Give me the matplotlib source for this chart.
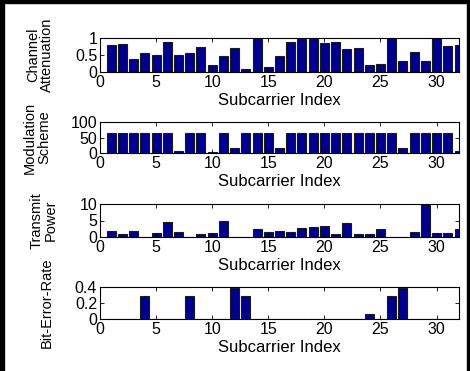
import numpy as np
import matplotlib
matplotlib.use("Agg")
import matplotlib.pyplot as plt
from matplotlib.patches import Rectangle

plt.rcParams['font.family'] = ['Liberation Sans', 'DejaVu Sans']

subcarrier = np.arange(1, 33)
attenuation = [0.78, 0.81, 0.39, 0.56, 0.49, 0.87, 0.49, 0.56, 0.75, 0.21,
               0.46, 0.72, 0.08, 0.96, 0.14, 0.46, 0.87, 0.96, 0.96, 0.84,
               0.87, 0.68, 0.72, 0.21, 0.24, 0.99, 0.32, 0.59, 0.32, 0.99,
               0.77, 0.80]
modulation = [64, 64, 64, 64, 64, 64, 8, 64, 64, 4,
              64, 16, 64, 64, 64, 16, 64, 64, 64, 64,
              64, 64, 64, 64, 64, 64, 16, 64, 64, 64,
              64, 8]
power = [1.7, 0.8, 1.7, 0.0, 1.2, 4.6, 1.5, 0.0, 0.8, 1.1,
         5.0, 0.0, 0.0, 2.4, 1.5, 1.7, 1.4, 2.7, 3.0, 3.4,
         0.8, 4.2, 0.8, 0.8, 2.4, 0.0, 0.0, 1.4, 10.0, 1.1,
         1.1, 2.4]
ber = [0.002, 0.002, 0.002, 0.29, 0.002, 0.002, 0.002, 0.29, 0.002, 0.002,
       0.002, 0.39, 0.29, 0.002, 0.002, 0.002, 0.002, 0.002, 0.002, 0.002,
       0.002, 0.002, 0.002, 0.06, 0.002, 0.29, 0.39, 0.002, 0.002, 0.002,
       0.002, 0.002]

panels = [
    (attenuation, 'Channel\nAttenuation', (0, 1), [0, 0.5, 1], ['0', '0.5', '1'], -0.128),
    (modulation, 'Modulation\nScheme', (0, 100), [0, 50, 100], ['0', '50', '100'], -0.136),
    (power, 'Transmit\nPower', (0, 10), [0, 5, 10], ['0', '5', '10'], -0.117),
    (ber, 'Bit-Error-Rate', (0, 0.4), [0, 0.2, 0.4], ['0', '0.2', '0.4'], -0.13),
]
# axes boxes in pixels (top, bottom) of a 470x371 figure
boxes = [(38, 72), (122, 153), (204, 237), (287, 319)]

W, H = 470, 371
fig = plt.figure(figsize=(W / 100, H / 100), dpi=100)

for (vals, ylab, ylim, yt, ytl, lx), (top, bot) in zip(panels, boxes):
    ax = fig.add_axes([100 / W, 1 - bot / H, 359 / W, (bot - top) / H])
    ax.bar(subcarrier, vals, width=0.8, color='#00008f', edgecolor='#1a1a1a',
           linewidth=0.8)
    ax.set_xlim(0, 32)
    ax.set_ylim(*ylim)
    ax.set_xticks([0, 5, 10, 15, 20, 25, 30])
    ax.set_yticks(yt)
    ax.set_yticklabels(ytl)
    ax.tick_params(direction='in', top=True, right=True, labelsize=11.5,
                   length=3, width=0.6, pad=2)
    ax.set_xlabel('Subcarrier Index', fontsize=12, labelpad=2)
    ax.set_ylabel(ylab, fontsize=10.5, linespacing=1.0)
    ax.yaxis.set_label_coords(lx, 0.5)
    for s in ax.spines.values():
        s.set_linewidth(0.8)

# thick frame around the figure
fig.add_artist(Rectangle((0, 0), 4 / W, 1, transform=fig.transFigure,
                         color='black'))
fig.add_artist(Rectangle((0, 1 - 3 / H), 1, 3 / H, transform=fig.transFigure,
                         color='black'))
fig.add_artist(Rectangle((1 - 3 / W, 0), 3 / W, 1, transform=fig.transFigure,
                         color='black'))

fig.savefig('out.png', dpi=100)
